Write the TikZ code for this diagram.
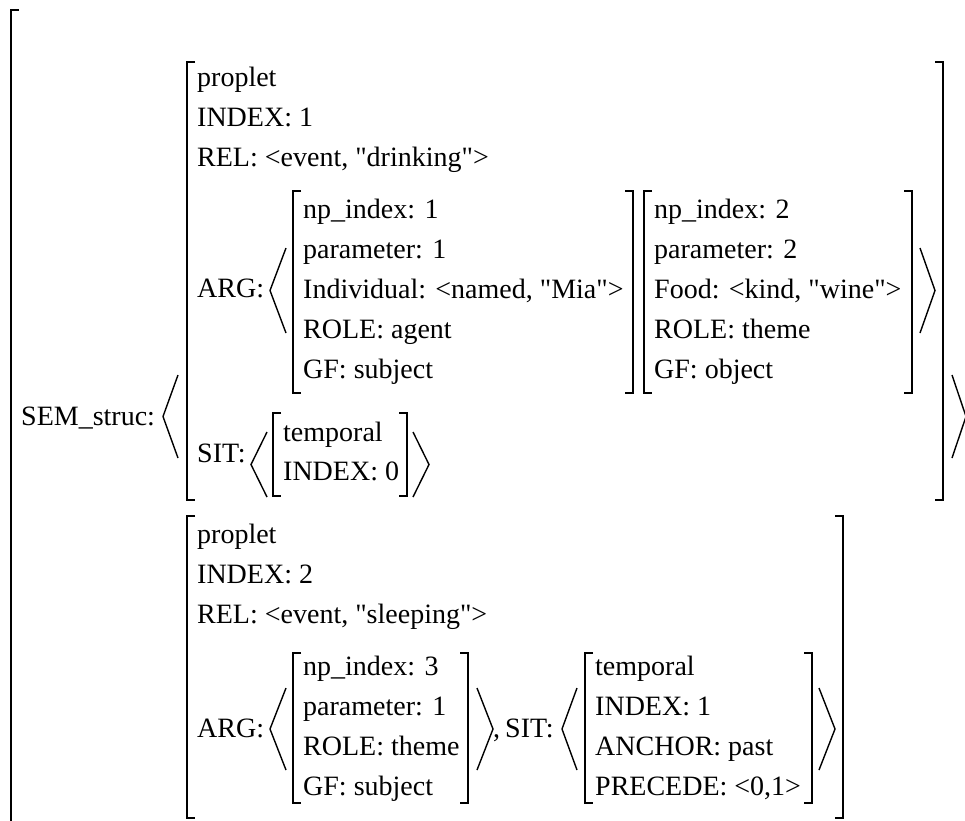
\documentclass[tikz,border=0pt]{standalone}
\usepackage{fontspec}
\setmainfont{Liberation Serif}[Ligatures=TeXOff]
\begin{document}
\begin{tikzpicture}[x=1pt,y=-1pt,
  txt/.style={anchor=base west,inner sep=0pt,font=\fontsize{28}{40}\selectfont},
  brk/.style={line width=1.9pt},
  ang/.style={line width=1.4pt}]
\useasboundingbox (0,0) rectangle (965,820);
% bracket macros
\newcommand{\lbrk}[3]{\draw[brk] (#1+8,#2) -- (#1,#2) -- (#1,#3) -- (#1+8,#3);}
\newcommand{\rbrk}[3]{\draw[brk] (#1-8,#2) -- (#1,#2) -- (#1,#3) -- (#1-8,#3);}
\newcommand{\lang}[4]{\draw[ang] (#1,#3) -- (#2,{(#3+#4)/2}) -- (#1,#4);}
% outer bracket
\draw[brk] (19,10) -- (11,10) -- (11,830);
\node[txt] (sem) at (21,425) {SEM\_struc:};
\lang{178}{163}{375}{458}
\lang{952}{966}{375}{458}
% first proplet
\lbrk{187}{62}{500}
\rbrk{943}{62}{500}
\node[txt] (p1) at (197,86) {proplet};
\node[txt] (i1) at (197,126) {INDEX: 1};
\node[txt] (r1) at (197,166) {REL: <event, "drinking">};
\node[txt] (a1) at (197,297) {ARG:};
\lang{286}{270}{248}{333}
\lang{920}{935}{248}{333}
\lbrk{293}{191}{393}
\rbrk{633}{191}{393}
\node[txt] (n1) at (303,218) {np\_index: 1};
\node[txt] (m1) at (303,258) {parameter: 1};
\node[txt] (d1) at (303,298) {Individual: <named, "Mia">};
\node[txt] (o1) at (303,338) {ROLE: agent};
\node[txt] (g1) at (303,378) {GF: subject};
\lbrk{644}{191}{393}
\rbrk{912}{191}{393}
\node[txt] (n2) at (654,218) {np\_index: 2};
\node[txt] (m2) at (654,258) {parameter: 2};
\node[txt] (d2) at (654,298) {Food: <kind, "wine">};
\node[txt] (o2) at (654,338) {ROLE: theme};
\node[txt] (g2) at (654,378) {GF: object};
\node[txt] (s1) at (197,462) {SIT:};
\lang{267}{251}{432}{497}
\lang{413}{429}{432}{497}
\lbrk{273}{413}{496}
\rbrk{407}{413}{496}
\node[txt] (t1) at (283,441) {temporal};
\node[txt] (x1) at (283,480) {INDEX: 0};
% second proplet
\lbrk{187}{516}{818}
\rbrk{843}{516}{818}
\node[txt] (p2) at (197,543) {proplet};
\node[txt] (i2) at (197,583) {INDEX: 2};
\node[txt] (r2) at (197,623) {REL: <event, "sleeping">};
\node[txt] (a2) at (197,737) {ARG:};
\lang{286}{270}{688}{770}
\lang{477}{493}{688}{770}
\lbrk{293}{653}{803}
\rbrk{468}{653}{803}
\node[txt] (n3) at (303,675) {np\_index: 3};
\node[txt] (m3) at (303,715) {parameter: 1};
\node[txt] (o3) at (303,755) {ROLE: theme};
\node[txt] (g3) at (303,795) {GF: subject};
\node[txt] (cm) at (493,737) {,};
\node[txt] (s2) at (505,737) {SIT:};
\lang{577}{562}{688}{770}
\lang{819}{835}{688}{770}
\lbrk{585}{653}{803}
\rbrk{812}{653}{803}
\node[txt] (t2) at (595,675) {temporal};
\node[txt] (x2) at (595,715) {INDEX: 1};
\node[txt] (c2) at (595,755) {ANCHOR: past};
\node[txt] (e2) at (595,795) {PRECEDE: <0,1>};
\end{tikzpicture}
\end{document}
